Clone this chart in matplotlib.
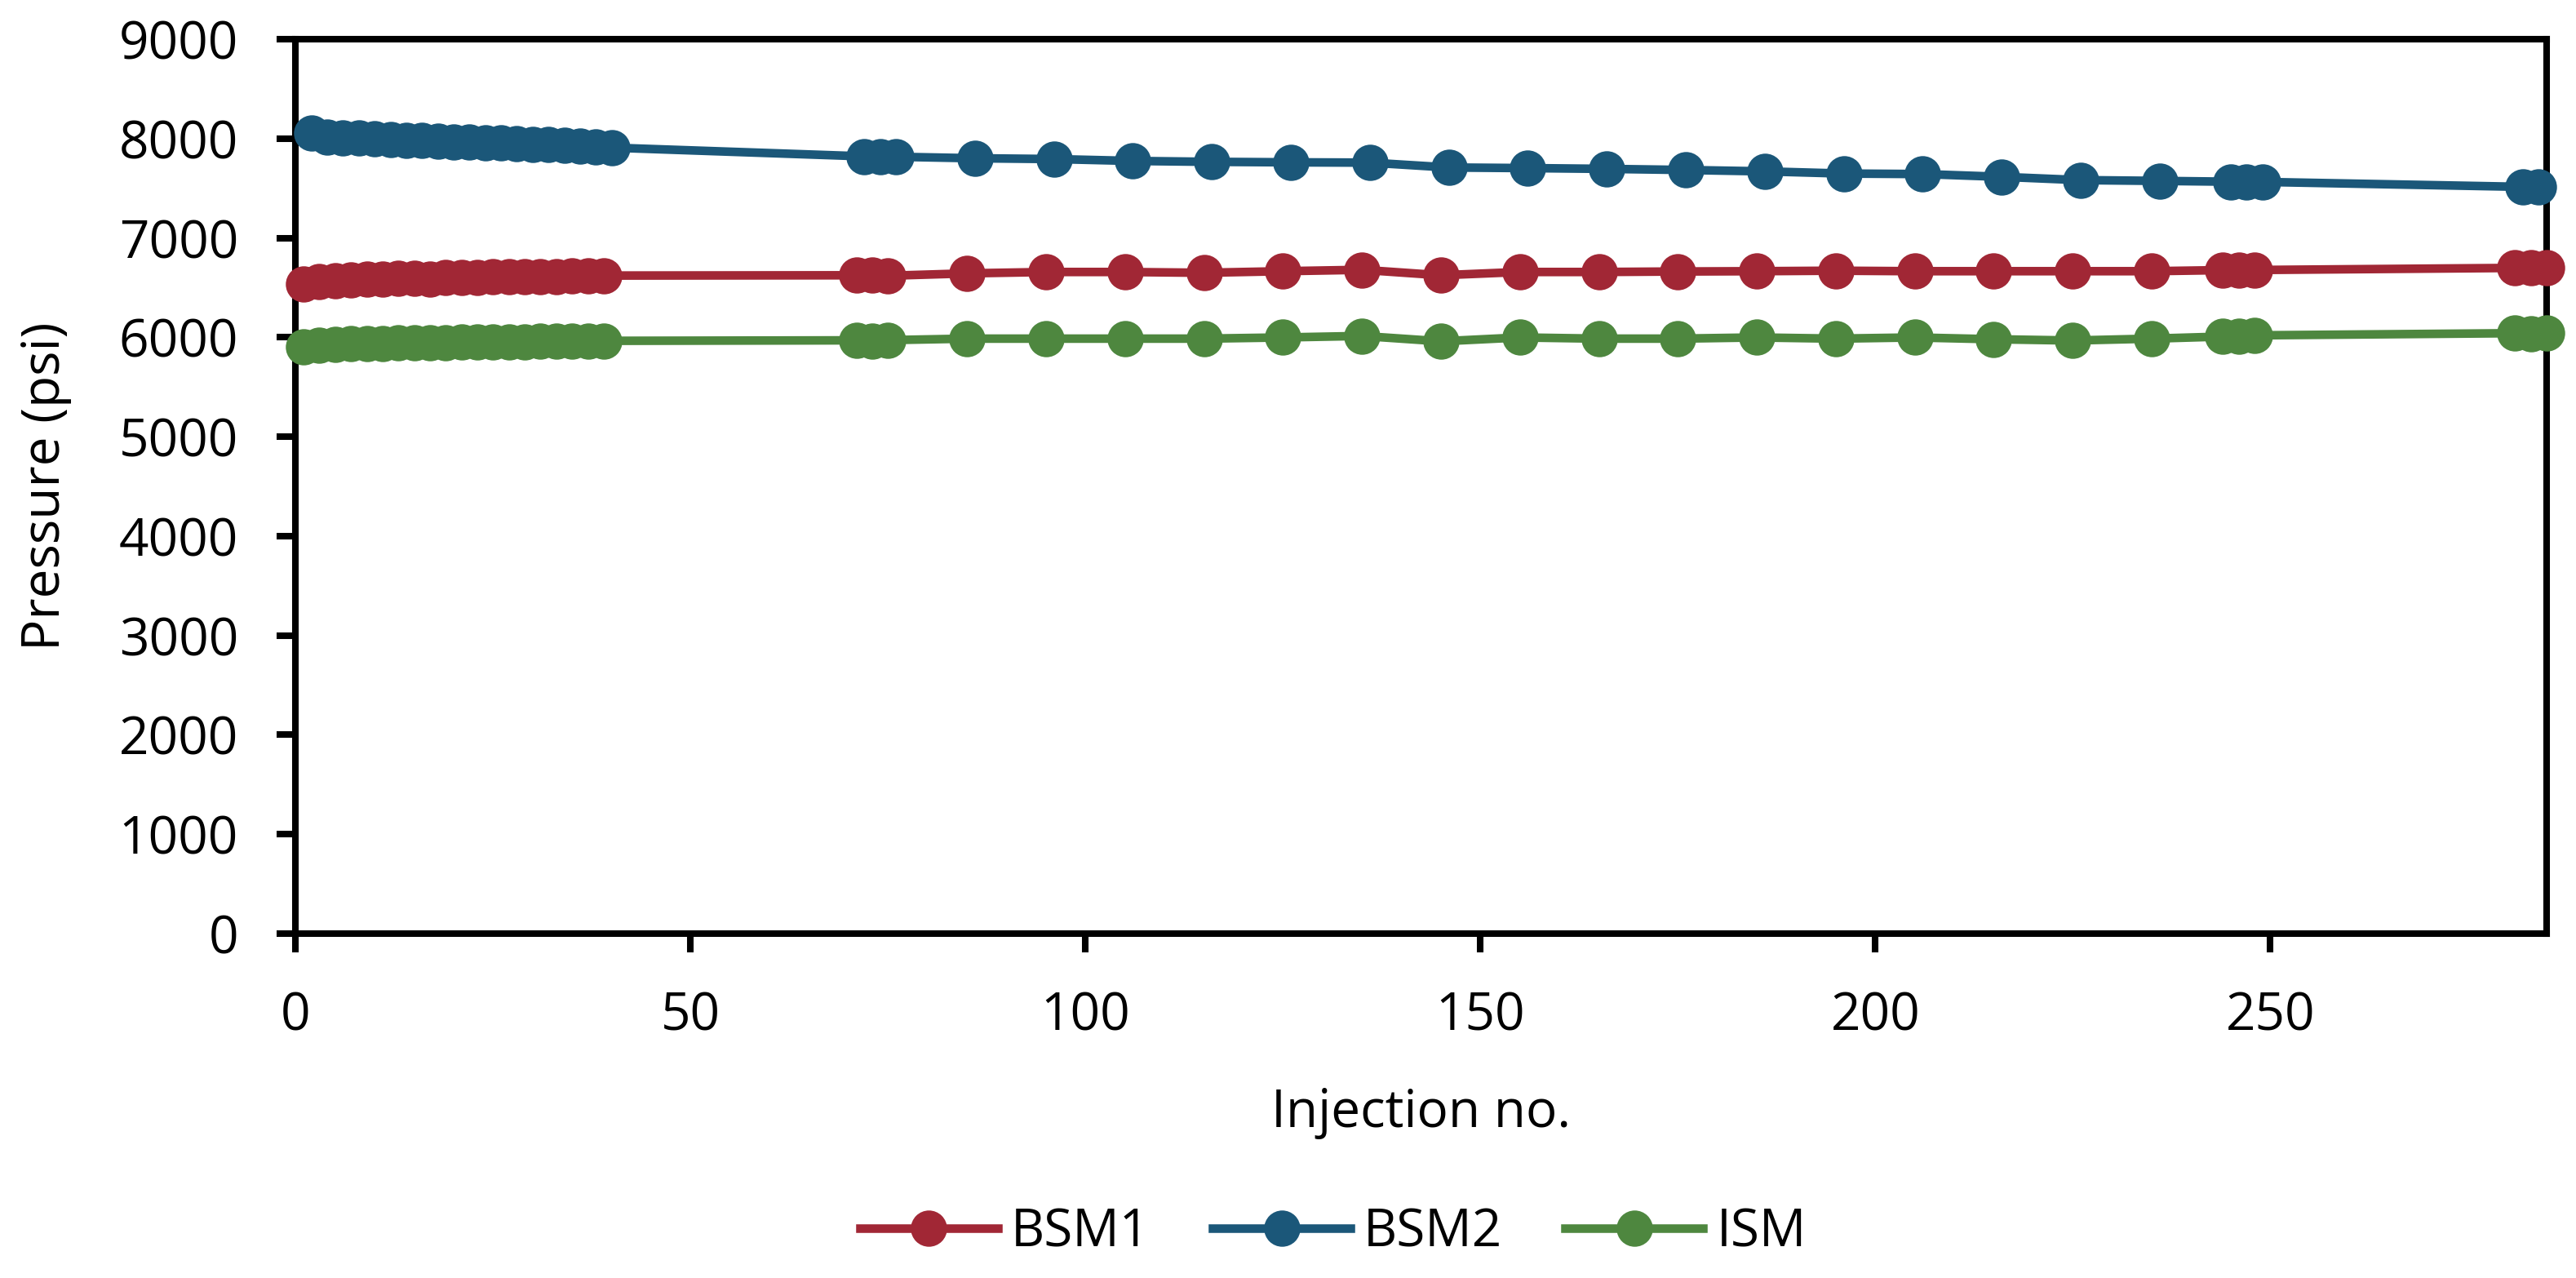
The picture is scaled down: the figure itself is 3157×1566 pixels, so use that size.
import matplotlib
matplotlib.use("Agg")
import matplotlib.pyplot as plt

# ---- data ----
bsm2_x = [2, 4, 6, 8, 10, 12, 14, 16, 18, 20, 22, 24, 26, 28, 30, 32, 34, 36, 38, 40,
          72, 74, 76,
          86, 96, 106, 116, 126, 136, 146, 156, 166, 176, 186, 196, 206, 216, 226, 236,
          245, 247, 249,
          282, 284]
bsm2_y = [8055, 8020, 8010, 8005, 7998, 7992, 7985, 7980, 7975, 7970, 7965, 7960, 7955, 7950,
          7945, 7940, 7935, 7928, 7920, 7910,
          7822, 7820, 7818,
          7803, 7795, 7776, 7767, 7762, 7759, 7710, 7704, 7696, 7685, 7671, 7649, 7644, 7616,
          7583, 7575,
          7567, 7566, 7565,
          7515, 7513]

bsm1_x = [1, 3, 5, 7, 9, 11, 13, 15, 17, 19, 21, 23, 25, 27, 29, 31, 33, 35, 37, 39,
          71, 73, 75,
          85, 95, 105, 115, 125, 135, 145, 155, 165, 175, 185, 195, 205, 215, 225, 235,
          244, 246, 248,
          281, 283, 285]
bsm1_y = [6535, 6560, 6570, 6575, 6583, 6588, 6592, 6597, 6585, 6600, 6603, 6605, 6607, 6609,
          6611, 6613, 6615, 6618, 6620, 6622,
          6625, 6625, 6620,
          6644, 6658, 6658, 6650, 6666, 6680, 6625, 6658, 6658, 6663, 6666, 6671, 6666, 6666,
          6666, 6666,
          6677, 6677, 6678,
          6699, 6698, 6700]

ism_x = [1, 3, 5, 7, 9, 11, 13, 15, 17, 19, 21, 23, 25, 27, 29, 31, 33, 35, 37, 39,
         71, 73, 75,
         85, 95, 105, 115, 125, 135, 145, 155, 165, 175, 185, 195, 205, 215, 225, 235,
         244, 246, 248,
         281, 283, 285]
ism_y = [5905, 5925, 5930, 5935, 5937, 5940, 5942, 5944, 5946, 5948, 5950, 5952, 5953, 5955,
         5957, 5958, 5960, 5962, 5963, 5965,
         5970, 5965, 5972,
         5987, 5987, 5987, 5987, 5999, 6014, 5960, 5999, 5987, 5987, 5999, 5987, 5999, 5981,
         5968, 5987,
         6008, 6014, 6020,
         6042, 6040, 6042]

series_names = ["BSM1", "BSM2", "ISM"]
colors = ["#A12735", "#1B5779", "#4E873F"]
x_ticks = [0, 50, 100, 150, 200, 250]
y_ticks = [0, 1000, 2000, 3000, 4000, 5000, 6000, 7000, 8000, 9000]

plt.rcParams['font.family'] = ['Open Sans', 'DejaVu Sans']
FS = 23

fig = plt.figure(figsize=(15.785, 7.83), dpi=200)
ax = fig.add_axes([0.1148, 0.2697, 0.9886 - 0.1148, 0.9692 - 0.2697])

for xs, ys, name, c in zip([bsm1_x, bsm2_x, ism_x], [bsm1_y, bsm2_y, ism_y], series_names, colors):
    ax.plot(xs, ys, color=c, lw=3.8, marker='o', markersize=16, markeredgewidth=0,
            label=name, clip_on=False, zorder=3)

ax.set_xlim(0, 285)
ax.set_ylim(0, 9000)
ax.set_xticks(x_ticks)
ax.set_yticks(y_ticks)
ax.tick_params(axis='both', direction='out', length=8.3, width=2.9, labelsize=FS, pad=17,
               colors='black')
for s in ax.spines.values():
    s.set_linewidth(2.9)
    s.set_color('black')

ax.set_xlabel("Injection no.", fontsize=FS)
ax.set_ylabel("Pressure (psi)", fontsize=FS)
ax.xaxis.label.set_va('center')
ax.yaxis.label.set_va('center')
ax.xaxis.set_label_coords(0.5, -0.2012)
ax.yaxis.set_label_coords(-0.111, 0.5)

leg = fig.legend(loc='center', bbox_to_anchor=(0.5175, 0.0357), ncol=3, frameon=False,
                 fontsize=FS, handlelength=2.65, handletextpad=0.25, columnspacing=1.2)

fig.savefig("out.png", dpi=200)
